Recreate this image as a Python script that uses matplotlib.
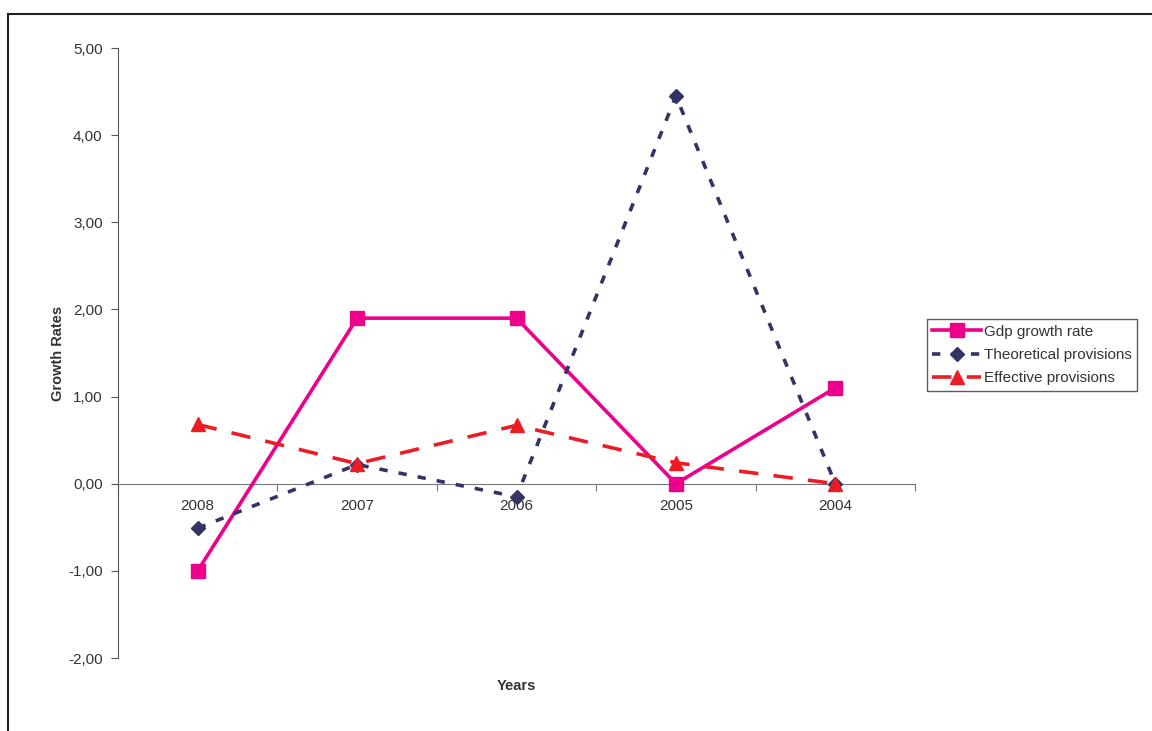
import matplotlib
matplotlib.use("Agg")
import matplotlib.pyplot as plt
from matplotlib.lines import Line2D
from matplotlib.ticker import FuncFormatter

plt.rcParams["font.family"] = ["Liberation Sans", "DejaVu Sans"]
plt.rcParams["lines.scale_dashes"] = False

years = ["2008", "2007", "2006", "2005", "2004"]
gdp = [-1.00, 1.90, 1.90, 0.00, 1.10]
theoretical = [-0.51, 0.22, -0.15, 4.45, 0.00]
effective = [0.68, 0.23, 0.67, 0.24, 0.00]

W, H = 1152, 731
fig = plt.figure(figsize=(W / 100, H / 100), dpi=100)
ax = fig.add_axes([118 / W, 1 - 658 / H, (915 - 118) / W, (658 - 48) / H])

x = range(len(years))
ax.plot(x, gdp, color="#EC008C", lw=2.6, marker="s", ms=10,
        label="Gdp growth rate", zorder=3)
ax.plot(x, theoretical, color="#333366", lw=2.6, marker="D", ms=7.5,
        dashes=(6, 8), label="Theoretical provisions", zorder=3)
ax.plot(x, effective, color="#ED1C24", lw=2.6, marker="^", ms=10,
        dashes=(14, 11), label="Effective provisions", zorder=3)

ax.set_xlim(-0.5, len(years) - 0.5)
ax.set_ylim(-2, 5)
ax.set_yticks(range(-2, 6))
ax.yaxis.set_major_formatter(FuncFormatter(lambda v, p: f"{v:.2f}".replace(".", ",")))

for s in ["top", "right"]:
    ax.spines[s].set_visible(False)
ax.spines["bottom"].set_position(("data", 0))
ax.spines["left"].set_color("#555555")
ax.spines["bottom"].set_color("#777777")

ax.set_xticks([i - 0.5 for i in range(len(years) + 1)])
ax.set_xticklabels([])
ax.set_xticks(list(x), minor=True)
ax.set_xticklabels(years, minor=True)
ax.tick_params(axis="x", which="major", direction="out", length=5, color="#777777")
ax.tick_params(axis="x", which="minor", length=0, pad=11, labelsize=11, labelcolor="#333333")
ax.tick_params(axis="y", direction="out", length=5, color="#555555",
               labelsize=11, labelcolor="#333333", pad=6)

ax.set_ylabel("Growth Rates", fontsize=10.5, fontweight="bold", color="#333333")
ax.yaxis.set_label_coords(-(118 - 65) / (915 - 118), 0.5)
ax.set_xlabel("Years", fontsize=10.5, fontweight="bold", color="#333333")
ax.xaxis.set_label_coords(0.5, -(679 - 658) / (658 - 48))

leg = ax.legend(loc="center left", bbox_to_anchor=(927 / W, 1 - 355 / H),
                bbox_transform=fig.transFigure, fontsize=11, frameon=True,
                fancybox=False, edgecolor="#333333", handlelength=3.2,
                handletextpad=0.15, borderpad=0.35, labelspacing=0.6, borderaxespad=0)
leg.get_frame().set_linewidth(1.0)
for t in leg.get_texts():
    t.set_color("#333333")

# outer frame, cropped at the right and bottom
fig.add_artist(Line2D([8 / W, 8 / W], [0, 1 - 14 / H], transform=fig.transFigure,
                      color="#222222", lw=1.5))
fig.add_artist(Line2D([8 / W, 1], [1 - 14 / H, 1 - 14 / H], transform=fig.transFigure,
                      color="#222222", lw=1.5))

fig.savefig("out.png", dpi=100)
